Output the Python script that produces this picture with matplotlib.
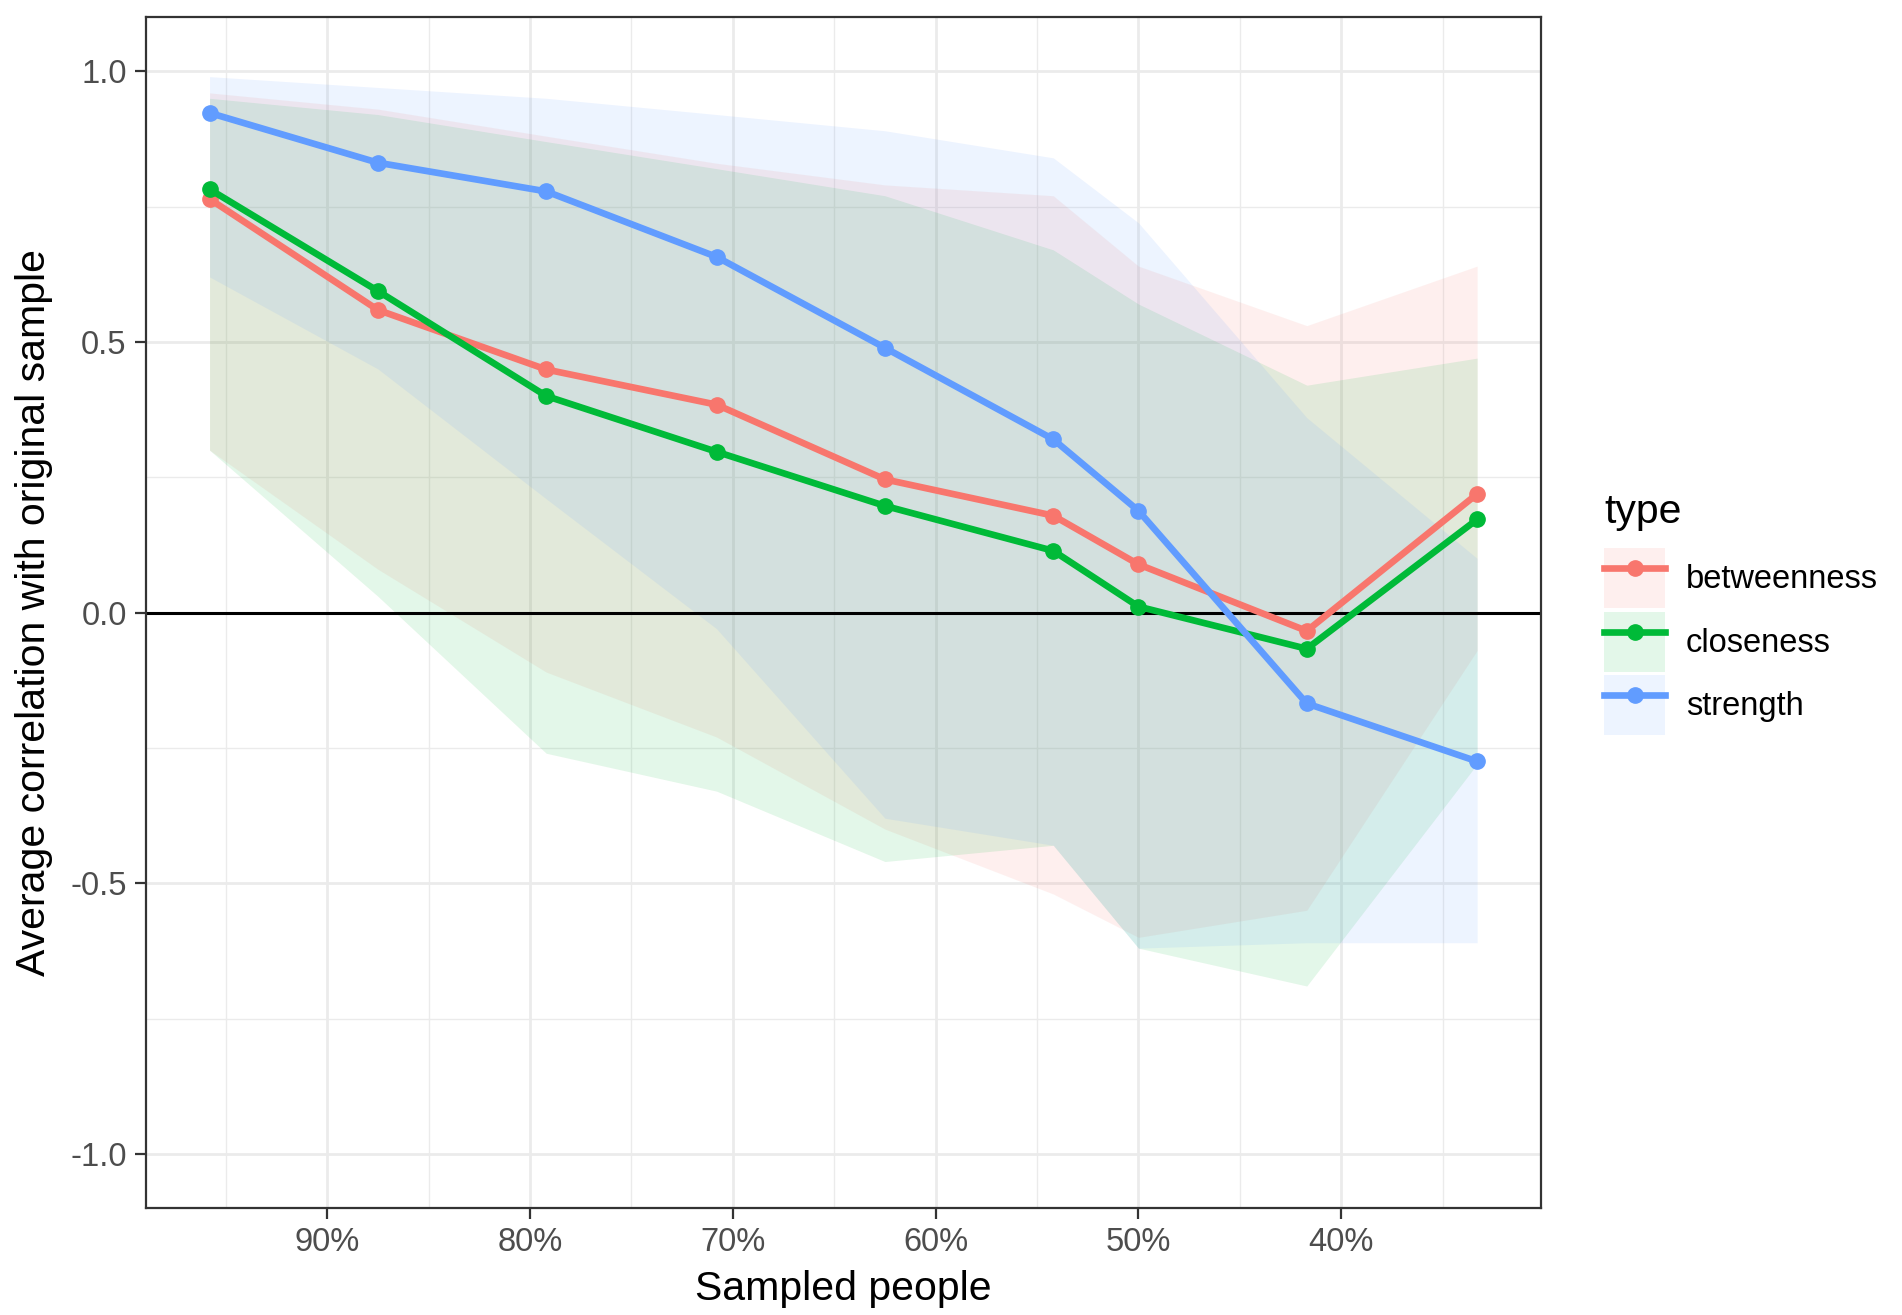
import matplotlib
matplotlib.use("Agg")
import matplotlib.pyplot as plt
from matplotlib.patches import Patch
from matplotlib.lines import Line2D
from matplotlib.legend_handler import HandlerTuple

plt.rcParams['font.family'] = ['Liberation Sans', 'DejaVu Sans']

# ---- data ----
sampled_pct = [95.8, 87.5, 79.2, 70.8, 62.5, 54.2, 50.0, 41.7, 33.3]
types = ["betweenness", "closeness", "strength"]

betweenness_mean = [0.764, 0.559, 0.449, 0.384, 0.246, 0.179, 0.089, -0.034, 0.219]
closeness_mean = [0.782, 0.594, 0.400, 0.297, 0.197, 0.114, 0.011, -0.067, 0.172]
strength_mean = [0.923, 0.831, 0.778, 0.657, 0.489, 0.320, 0.188, -0.168, -0.275]

betweenness_lower = [0.30, 0.08, -0.11, -0.23, -0.40, -0.52, -0.60, -0.55, -0.07]
betweenness_upper = [0.96, 0.93, 0.88, 0.83, 0.79, 0.77, 0.64, 0.53, 0.64]
closeness_lower = [0.30, 0.03, -0.26, -0.33, -0.46, -0.43, -0.62, -0.69, -0.28]
closeness_upper = [0.95, 0.92, 0.87, 0.82, 0.77, 0.67, 0.57, 0.42, 0.47]
strength_lower = [0.62, 0.45, 0.21, -0.03, -0.38, -0.43, -0.62, -0.61, -0.61]
strength_upper = [0.99, 0.97, 0.95, 0.92, 0.89, 0.84, 0.72, 0.36, 0.10]

x_ticks = [90, 80, 70, 60, 50, 40]
x_ticklabels = ["90%", "80%", "70%", "60%", "50%", "40%"]
y_ticks = [1.0, 0.5, 0.0, -0.5, -1.0]
y_ticklabels = ["1.0", "0.5", "0.0", "-0.5", "-1.0"]

colors = ["#F8766D", "#00BA38", "#619CFF"]
means = [betweenness_mean, closeness_mean, strength_mean]
lowers = [betweenness_lower, closeness_lower, strength_lower]
uppers = [betweenness_upper, closeness_upper, strength_upper]

# ---- figure ----
fig = plt.figure(figsize=(19.02, 13.15), dpi=100)
ax = fig.add_axes([0.0768, 0.0814, 0.810 - 0.0768, 0.987 - 0.0814])

ax.set_xlim(98.93, 30.17)
ax.set_ylim(-1.1, 1.1)

# grid (ggplot theme_bw)
minor_x = [95, 85, 75, 65, 55, 45, 35]
minor_y = [0.75, 0.25, -0.25, -0.75]
for v in minor_x:
    ax.axvline(v, color="#EBEBEB", lw=1.0, zorder=0)
for v in minor_y:
    ax.axhline(v, color="#EBEBEB", lw=1.0, zorder=0)
for v in x_ticks:
    ax.axvline(v, color="#EBEBEB", lw=2.0, zorder=0)
for v in y_ticks:
    ax.axhline(v, color="#EBEBEB", lw=2.0, zorder=0)

alpha = 0.11
for c, lo, up in zip(colors, lowers, uppers):
    ax.fill_between(sampled_pct, lo, up, color=c, alpha=alpha, lw=0, zorder=1)

ax.axhline(0, color="black", lw=2.2, zorder=2)

for c, m in zip(colors, means):
    ax.plot(sampled_pct, m, color=c, lw=4.8, marker="o", markersize=11,
            solid_capstyle="butt", zorder=3)

ax.set_xticks(x_ticks)
ax.set_xticklabels(x_ticklabels)
ax.set_yticks(y_ticks)
ax.set_yticklabels(y_ticklabels)
ax.tick_params(axis="both", length=8, width=1.6, color="#333333",
               labelsize=23.5, labelcolor="#4D4D4D", pad=6)

for s in ax.spines.values():
    s.set_color("#333333")
    s.set_linewidth(1.6)

ax.set_xlabel("Sampled people", fontsize=29.5, color="black", labelpad=8)
ax.set_ylabel("Average correlation with original sample", fontsize=29.5,
              color="black", labelpad=12)

# legend
handles = []
for c in colors:
    p = Patch(facecolor=c, alpha=alpha, edgecolor="none")
    l = Line2D([], [], color=c, lw=4.8, marker="o", markersize=11)
    handles.append((p, l))
leg = fig.legend(handles, types, title="type",
                 handler_map={tuple: HandlerTuple(ndivide=1, pad=0)},
                 loc="center left", bbox_to_anchor=(0.8435, 0.533),
                 frameon=False, fontsize=23.5, title_fontsize=29.5,
                 handlelength=1.85, handleheight=2.45, labelspacing=0.12,
                 handletextpad=0.65, borderpad=0, borderaxespad=0,
                 alignment="left")
leg._legend_box.sep = 12.2

fig.savefig("out.png", dpi=100)
